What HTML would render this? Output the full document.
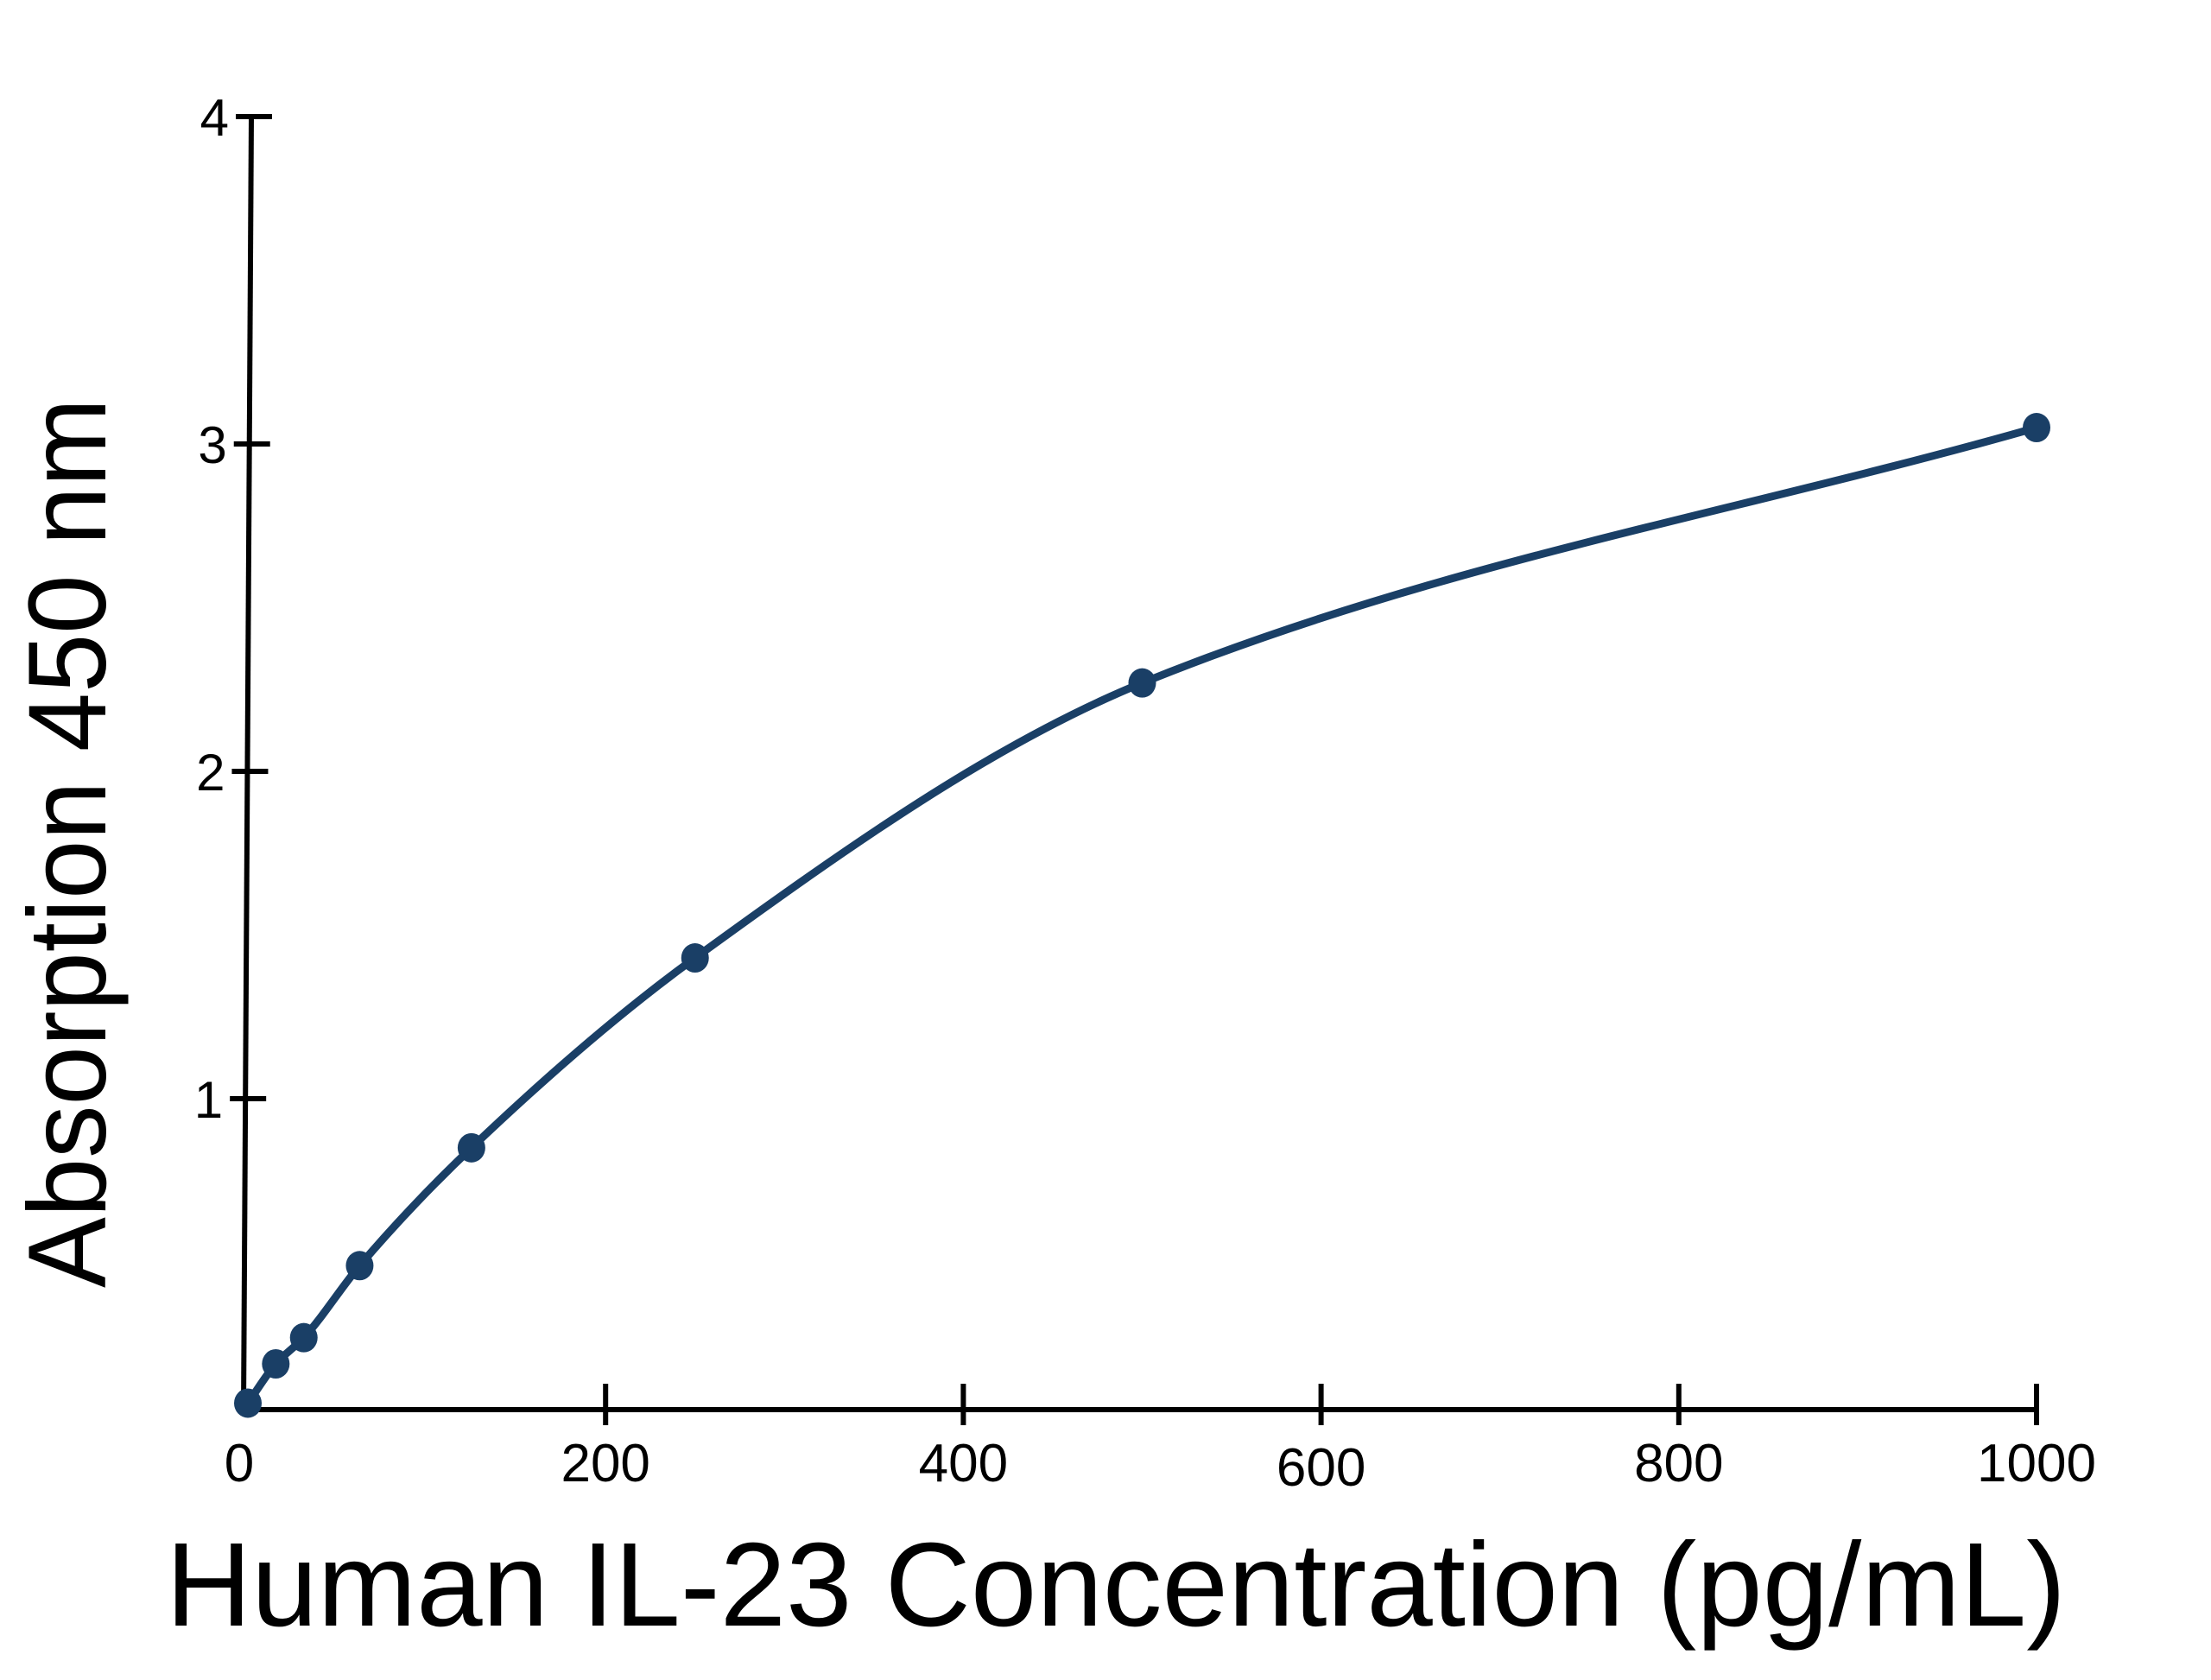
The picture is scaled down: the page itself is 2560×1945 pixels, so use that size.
<!DOCTYPE html>
<html><head><meta charset="utf-8"><style>
html,body{margin:0;padding:0;background:#fff;}
svg{display:block;}
text{font-family:"Liberation Sans",sans-serif;fill:#000;}
</style></head><body>
<svg id="chart" width="2560" height="1945" viewBox="0 0 2560 1945" xmlns="http://www.w3.org/2000/svg">
<g id="axes"></g>
<g id="series"></g>
<text transform="translate(122,976) rotate(-90)" text-anchor="middle" font-size="128" textLength="1030" lengthAdjust="spacingAndGlyphs">Absorption 450 nm</text>
<text x="1292" y="1882" text-anchor="middle" font-size="138" textLength="2200" lengthAdjust="spacingAndGlyphs">Human IL-23 Concentration (pg/mL)</text>
</svg>
<script>
const concentrations = [0, 15.6, 31.25, 62.5, 125, 250, 500, 1000];
const absorbance = [0.07, 0.19, 0.27, 0.49, 0.85, 1.43, 2.27, 3.05];
const xTicks = [0, 200, 400, 600, 800, 1000];
const yTicks = [1, 2, 3, 4];

const NS = "http://www.w3.org/2000/svg";
const AXY = 1632;
function xs(v){ return 287 + v * 2.071; }
function ys(v){ return 1651 - v * 379; }
function mk(tag, attrs, parent){
  const e = document.createElementNS(NS, tag);
  for (const k in attrs) e.setAttribute(k, attrs[k]);
  parent.appendChild(e);
  return e;
}
const axes = document.getElementById('axes');
const series = document.getElementById('series');

const yAxis = mk('line', {x1:282, y1:AXY, x2:291, y2:ys(4), stroke:'#000','stroke-width':6}, axes);


const xAxis = mk('line', {x1:282, y1:AXY, x2:xs(1000)+3, y2:AXY, stroke:'#000','stroke-width':6}, axes);



xTicks.forEach(function(t){
  const x = xs(t);
  if (t > 0) {
    const tk = mk('line', {x1:x, y1:AXY-30, x2:x, y2:AXY+18, stroke:'#000','stroke-width':6}, axes);
    
    
  }
  const lb = mk('text', {x: t===0 ? x-10 : x, y: t===600 ? 1720 : 1715, 'text-anchor':'middle','font-size':62}, axes);
  lb.textContent = t;
  
  
});
yTicks.forEach(function(t){
  const y = ys(t);
  const ax = 282 + (AXY - y) / (AXY - ys(4)) * 9;
  const tk = mk('line', {x1:ax-18, y1:y, x2:ax+24, y2:y, stroke:'#000','stroke-width':6}, axes);
  
  
  const lb = mk('text', {x:ax-26, y:y+22, 'text-anchor':'end','font-size':60}, axes);
  lb.textContent = t;
  
  
});

// monotone cubic interpolation (Fritsch-Carlson)
const px = concentrations.map(xs);
const py = absorbance.map(ys);
const n = px.length;
const dx = [], sl = [];
for (let i = 0; i < n-1; i++){ dx.push(px[i+1]-px[i]); sl.push((py[i+1]-py[i])/dx[i]); }
const m = [sl[0]];
for (let i = 1; i < n-1; i++){
  if (sl[i-1]*sl[i] <= 0) m.push(0);
  else { const w1 = 2*dx[i]+dx[i-1], w2 = dx[i]+2*dx[i-1]; m.push((w1+w2)/(w1/sl[i-1]+w2/sl[i])); }
}
m.push(sl[n-2]);
let d = 'M' + px[0] + ',' + py[0];
for (let i = 0; i < n-1; i++){
  const h = dx[i]/3;
  d += ' C' + (px[i]+h) + ',' + (py[i]+m[i]*h) + ' ' + (px[i+1]-h) + ',' + (py[i+1]-m[i+1]*h) + ' ' + px[i+1] + ',' + py[i+1];
}
const curve = mk('path', {d:d, fill:'none', stroke:'#1a3f66', 'stroke-width':9, 'stroke-linejoin':'round'}, series);


for (let i = 0; i < n; i++){
  const c = mk('ellipse', {cx:px[i], cy:py[i], rx:16, ry:17, fill:'#1a3f66'}, series);
  
  
}
</script>
</body></html>
